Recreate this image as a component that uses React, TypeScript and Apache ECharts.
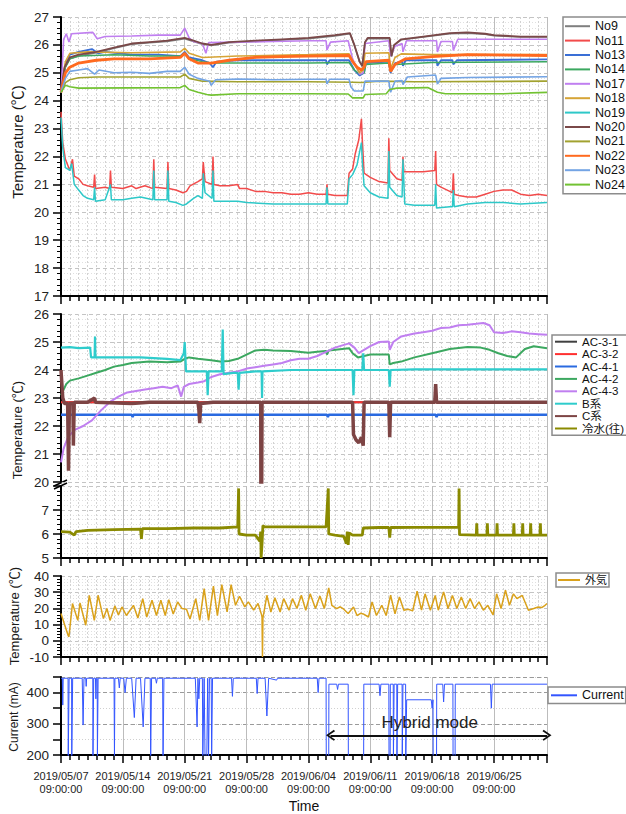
import React, { useEffect, useRef } from 'react';
import * as echarts from 'echarts';

// x values are days since 2019/05/07 09:00:00
const DAY0 = Date.UTC(2019, 4, 7, 9, 0, 0);
const X_MIN = 0;
const X_MAX = 55;
const WEEK = 7;

// ---------- Panel 1 : room temperatures ----------
const no9: [number, number][] = [[0,24.3],[0.4,25.15],[1,25.5],[2,25.6],[4,25.72],[6,25.88],[8,26.02],[10,26.08],[12,26.12],[14,26.22],[15,26.12],[16,26.02],[17,25.98],[19,26.08],[22,26.12],[25,26.18],[28,26.22],[31,26.32],[32.7,26.4],[33.2,25.98],[33.8,25.38],[34.1,25.22],[34.4,26.08],[34.7,26.22],[37.2,26.22],[37.4,25.58],[37.7,25.98],[38.5,26.18],[41,26.28],[44,26.4],[46,26.42],[48,26.38],[49,26.33],[52,26.28],[55,26.28]];
const no11: [number, number][] = [[0,23.6],[0.2,22.5],[0.5,21.9],[1,21.5],[1.3,21.9],[1.5,21.3],[2,21.2],[2.5,21.0],[3,20.95],[3.7,20.9],[3.8,21.35],[3.9,20.85],[5,20.9],[5.5,20.85],[5.6,21.5],[5.7,20.9],[7,20.85],[8,20.95],[8.5,20.85],[9.5,20.95],[10.4,20.85],[10.5,21.9],[10.6,20.9],[12,20.85],[12.1,21.8],[12.2,20.85],[13,20.8],[13.8,20.7],[14.2,20.75],[14.6,20.95],[15.5,21.1],[16,21.2],[16.1,21.8],[16.3,21.1],[17.1,21.0],[17.2,22.0],[17.3,21.0],[18,20.95],[19,20.95],[20,21.0],[20.2,20.85],[21,20.85],[22,20.75],[23,20.75],[24,20.7],[25,20.7],[26,20.65],[27,20.65],[28,20.7],[29,20.65],[30,20.65],[30.1,21.0],[30.2,20.65],[31,20.6],[32.4,20.6],[32.6,21.4],[33,21.55],[33.3,22.1],[33.7,22.6],[34,23.35],[34.1,22.6],[34.3,21.4],[35,21.25],[36,21.1],[37,21.05],[37.1,22.65],[37.2,21.5],[38,21.2],[38.6,21.15],[38.7,22.0],[38.8,21.45],[40,21.45],[41,21.45],[42.3,21.5],[42.4,22.2],[42.5,21.0],[43,20.9],[44,20.75],[44.3,20.7],[44.4,21.4],[44.5,20.65],[45,20.6],[46,20.55],[47,20.55],[48,20.65],[49,20.75],[50,20.8],[51,20.8],[52,20.65],[53,20.6],[54,20.65],[55,20.6]];
const no13: [number, number][] = [[0,24.3],[0.5,25.3],[1,25.65],[2,25.75],[3.5,25.85],[4.2,25.7],[5,25.75],[8,25.65],[11,25.65],[13.5,25.6],[14,25.75],[14.5,25.55],[16,25.45],[16.8,25.35],[17.2,25.2],[17.6,25.4],[20,25.45],[24,25.45],[28,25.45],[30,25.45],[30.1,25.3],[30.4,25.45],[32.6,25.45],[33.2,25.1],[33.8,24.9],[34.3,25.0],[34.5,25.35],[37.1,25.4],[37.3,25.0],[37.8,25.35],[38.6,25.4],[38.7,25.25],[39,25.45],[42.5,25.45],[42.6,25.25],[43,25.45],[44.3,25.45],[44.4,25.3],[44.8,25.45],[55,25.48]];
const no14: [number, number][] = [[0,24.3],[0.5,25.2],[1,25.5],[2,25.6],[6,25.65],[10,25.6],[13.5,25.6],[14,25.7],[14.5,25.5],[16,25.4],[17,25.35],[20,25.35],[28,25.35],[32.6,25.37],[33.2,25.1],[33.8,24.95],[34.3,25.0],[34.5,25.3],[37.1,25.35],[37.3,25.05],[37.8,25.3],[42,25.37],[55,25.4]];
const no17: [number, number][] = [[0,24.3],[0.3,26.2],[0.6,26.4],[0.9,26.1],[1.2,26.4],[3.6,26.45],[4.1,26.22],[5,26.3],[8,26.32],[11,26.35],[13.5,26.35],[14,26.6],[14.5,26.25],[15,26.12],[16,26.05],[16.4,25.7],[16.7,26.08],[20,26.1],[24,26.12],[28,26.15],[30,26.15],[30.1,25.82],[30.5,26.1],[32.5,26.15],[33,25.5],[33.8,24.95],[34.2,25.0],[34.4,26.05],[37.1,26.15],[37.3,25.6],[37.8,25.95],[38.6,26.05],[38.7,25.75],[39.1,26.15],[42.5,26.15],[42.6,25.75],[43,26.12],[44.3,26.12],[44.4,25.8],[44.9,26.2],[55,26.2]];
const no18: [number, number][] = [[0,24.3],[0.5,25.4],[1,25.7],[3,25.75],[8,25.72],[13.5,25.75],[14,25.88],[14.5,25.7],[16,25.55],[20,25.6],[28,25.65],[32.6,25.68],[33.2,25.3],[33.8,25.0],[34.2,25.1],[34.4,25.7],[37.1,25.72],[37.3,25.15],[37.8,25.55],[38.5,25.68],[42,25.65],[55,25.65]];
const no19: [number, number][] = [[0,23.4],[0.2,22.3],[0.5,21.6],[1,21.5],[1.2,21.75],[1.5,21.0],[2,20.8],[2.5,20.6],[3,20.5],[3.7,20.45],[3.8,20.9],[3.9,20.4],[5,20.45],[5.6,21.0],[5.7,20.45],[7,20.45],[8,20.5],[9,20.55],[10.4,20.45],[10.5,21.5],[10.6,20.45],[12,20.45],[12.1,21.5],[12.2,20.4],[13,20.35],[13.8,20.25],[14.2,20.3],[15,20.5],[15.5,20.6],[16,20.5],[16.1,21.4],[16.3,20.7],[17.1,20.5],[17.2,21.5],[17.3,20.4],[18,20.4],[20,20.4],[21,20.35],[24,20.3],[27,20.3],[30,20.3],[30.1,20.9],[30.2,20.3],[32.4,20.3],[32.6,21.2],[33,21.35],[33.5,21.7],[34,22.5],[34.1,21.8],[34.3,20.95],[35,20.7],[36,20.55],[37,20.5],[37.1,22.2],[37.2,20.9],[38,20.6],[38.6,20.55],[38.7,21.9],[38.9,20.3],[40,20.25],[42.3,20.25],[42.4,21.0],[42.5,20.15],[44,20.2],[44.3,20.2],[44.4,20.8],[44.5,20.2],[46,20.3],[48,20.35],[50,20.35],[52,20.3],[55,20.35]];
const no20: [number, number][] = [[0,24.3],[0.4,25.2],[1,25.55],[2,25.65],[4,25.75],[6,25.9],[8,26.05],[10,26.1],[12,26.15],[14,26.25],[15,26.15],[16,26.05],[17,26.0],[19,26.1],[22,26.15],[25,26.2],[28,26.25],[31,26.35],[32.7,26.42],[33.2,26.0],[33.8,25.4],[34.1,25.25],[34.4,26.1],[34.7,26.25],[37.2,26.25],[37.4,25.6],[37.7,26.0],[38.5,26.2],[41,26.3],[44,26.42],[46,26.45],[48,26.4],[49,26.35],[52,26.3],[55,26.3]];
const no21: [number, number][] = [[0,24.3],[0.5,24.65],[1,24.75],[2,24.82],[4,24.85],[13.5,24.85],[14,24.95],[14.5,24.8],[16,24.7],[20,24.68],[28,24.68],[33,24.66],[34,24.65],[36,24.7],[40,24.68],[55,24.7]];
const no22: [number, number][] = [[0,24.3],[0.5,25.0],[1,25.2],[2,25.35],[4,25.45],[6,25.5],[10,25.5],[13.5,25.55],[14,25.7],[14.5,25.5],[15.5,25.35],[17,25.35],[19,25.45],[22,25.55],[25,25.58],[28,25.6],[32.6,25.62],[33,25.4],[33.5,25.2],[34,25.1],[34.3,25.2],[34.5,25.4],[37.1,25.45],[37.3,25.05],[37.8,25.3],[39,25.5],[42,25.58],[46,25.65],[55,25.62]];
const no23: [number, number][] = [[0,24.3],[0.5,24.8],[1,25.05],[2,25.1],[3,25.15],[3.8,24.95],[4.3,25.1],[6,25.0],[8,25.02],[10,24.98],[12,25.05],[13.5,25.05],[14,25.2],[14.5,24.95],[15.5,24.8],[16.8,24.7],[17,24.55],[17.5,24.75],[20,24.78],[24,24.75],[28,24.77],[30,24.77],[30.1,24.6],[30.4,24.77],[32.6,24.77],[32.8,24.5],[33.2,24.35],[34.2,24.35],[34.4,24.7],[37.1,24.7],[37.3,24.3],[37.8,24.7],[38.6,24.72],[38.7,24.58],[39.2,24.85],[42.4,24.92],[42.6,24.6],[43,24.8],[46,24.83],[55,24.86]];
const no24: [number, number][] = [[0,24.3],[0.5,24.55],[1,24.5],[2,24.45],[13.5,24.47],[14,24.55],[14.5,24.4],[15.5,24.3],[16.5,24.22],[17,24.2],[20,24.25],[28,24.25],[32.5,24.24],[33,24.1],[34.2,24.1],[34.4,24.22],[36.8,24.25],[37.2,24.4],[38,24.45],[41.5,24.47],[42.6,24.3],[43.5,24.25],[50,24.25],[55,24.3]];

// ---------- Panel 2 : supply temperatures ----------
const ac31: [number, number][] = [[0,22.85],[55,22.85]];
const ac32: [number, number][] = [[0,22.85],[55,22.85]];
const ac41: [number, number][] = [[0,22.4],[8,22.4],[8.1,22.32],[8.2,22.4],[15.6,22.4],[15.7,22.3],[15.8,22.4],[30.1,22.4],[30.2,22.32],[30.3,22.4],[42.4,22.4],[42.5,22.32],[42.6,22.4],[55,22.4]];
const ac42: [number, number][] = [[0,23.1],[0.3,23.3],[0.6,23.5],[1,23.62],[2,23.7],[3,23.8],[4,23.9],[5,24.0],[6,24.12],[7,24.18],[8,24.25],[9,24.28],[10,24.3],[12,24.28],[13.5,24.3],[14,24.4],[14.5,24.45],[15.5,24.4],[17,24.35],[18,24.3],[19,24.32],[20,24.4],[21,24.55],[22,24.7],[23,24.72],[24,24.7],[26,24.68],[28,24.62],[29,24.65],[30,24.68],[30.1,24.55],[30.3,24.7],[32.6,24.78],[33,24.6],[33.6,24.45],[34.3,24.5],[35,24.55],[37.1,24.55],[37.2,24.2],[37.6,24.25],[38.5,24.3],[40,24.45],[42,24.6],[44,24.75],[46,24.82],[47.5,24.8],[48.5,24.72],[49.5,24.6],[50.5,24.5],[51.5,24.45],[52.5,24.75],[53.5,24.85],[55,24.78]];
const ac43: [number, number][] = [[0,20.7],[0.3,21.2],[0.8,21.6],[1.5,21.85],[2.5,22.0],[3.5,22.2],[4.5,22.55],[5.5,22.85],[6.5,23.05],[7.5,23.2],[8.5,23.25],[9.5,23.3],[10.5,23.35],[11.5,23.4],[12.5,23.35],[13.2,23.45],[13.6,23.05],[13.9,23.4],[14.5,23.5],[15.5,23.55],[16.2,23.6],[17,23.75],[18,23.85],[19,23.9],[20,23.95],[21,24.05],[22,24.1],[23,24.15],[24,24.2],[25,24.25],[26,24.35],[27,24.4],[28,24.4],[29,24.5],[30,24.65],[31,24.8],[32.6,24.95],[33.2,24.8],[33.7,24.6],[34.2,24.7],[35,24.85],[36,25.0],[37.1,25.02],[37.2,24.72],[37.6,25.0],[38.5,25.2],[40,25.3],[41,25.35],[42,25.4],[43,25.5],[44,25.52],[45,25.6],[46,25.62],[47,25.65],[47.8,25.68],[48.5,25.6],[49,25.35],[50,25.32],[51,25.38],[52,25.35],[53,25.3],[54,25.28],[55,25.26]];
const sysB: [number, number][] = [[0,24.8],[1,24.82],[2,24.78],[3.3,24.8],[3.4,24.45],[3.8,24.45],[3.85,25.2],[3.9,24.45],[6,24.45],[9,24.45],[12,24.4],[13.5,24.35],[13.9,24.6],[14.0,25.0],[14.1,24.3],[14.15,23.95],[16,23.95],[16.5,23.95],[16.6,23.1],[16.7,23.95],[18.2,23.95],[18.3,25.45],[18.4,23.85],[19.5,23.9],[20,23.9],[20.1,23.3],[20.2,23.9],[22,23.95],[22.7,23.95],[22.75,23.0],[22.8,23.95],[26,24.0],[30,24.0],[33,24.0],[33.1,23.1],[33.2,24.0],[34.1,24.0],[34.2,24.6],[34.3,24.0],[37.1,24.0],[37.2,23.4],[37.3,24.0],[40,24.02],[45,24.02],[50,24.02],[55,24.02]];
const sysC: [number, number][] = [[0,24.0],[0.2,23.0],[0.4,22.8],[0.75,22.8],[0.85,20.4],[0.95,22.8],[1.35,22.8],[1.4,21.3],[1.5,22.85],[3,22.85],[3.8,23.0],[3.9,22.85],[8,22.8],[10,22.85],[13,22.85],[15.5,22.85],[15.6,22.6],[15.7,22.1],[15.8,22.8],[17.2,22.85],[22.6,22.85],[22.65,15.0],[22.75,22.85],[28,22.85],[33,22.85],[33.1,21.7],[33.4,21.5],[33.7,21.4],[34.0,21.6],[34.2,21.3],[34.3,22.85],[37.1,22.85],[37.2,21.6],[37.3,22.85],[42.3,22.85],[42.4,23.5],[42.5,22.85],[48,22.85],[55,22.85]];
const coldWater: [number, number][] = [[0,6.1],[1,6.08],[1.5,5.95],[1.7,6.1],[3,6.15],[6,6.18],[9,6.2],[9.1,5.8],[9.2,6.22],[12,6.22],[15,6.25],[18,6.25],[20,6.3],[20.1,7.9],[20.15,6.0],[21,5.95],[22,5.95],[22.5,5.7],[22.6,6.1],[22.65,5.0],[22.75,5.6],[22.85,6.35],[23,6.3],[26,6.3],[30,6.3],[30.25,7.9],[30.3,6.0],[31,5.95],[32,5.9],[32.3,5.6],[32.4,6.1],[32.5,5.55],[32.6,6.05],[33,5.95],[34.1,5.95],[34.2,6.25],[36,6.27],[37.1,6.27],[37.2,5.85],[37.3,6.27],[40,6.28],[45,6.28],[45.05,7.9],[45.1,5.97],[47,5.95],[47.05,6.45],[47.1,5.95],[48.2,5.95],[48.25,6.45],[48.3,5.95],[49.3,5.95],[49.35,6.45],[49.4,5.95],[51.2,5.95],[51.25,6.45],[51.3,5.95],[52.2,5.95],[52.25,6.45],[52.3,5.95],[53.1,5.95],[53.15,6.45],[53.2,5.95],[54.2,5.95],[54.25,6.45],[54.3,5.95],[55,5.95]];

// ---------- Panel 3 : outdoor air ----------
const outdoor: [number, number][] = [[0,16.8],[0.4,10],[0.8,3.4],[0.9,2.5],[1.3,23],[1.9,12.6],[2.15,23.3],[2.8,9.6],[3.2,28.1],[3.77,12.6],[4.2,28.1],[4.8,13.7],[5.2,19.9],[5.55,12.6],[6.1,21.5],[6.5,16],[6.9,20.9],[7.4,15.6],[8.2,21.9],[8.7,14.1],[9.25,26],[9.7,14.7],[10.3,25],[10.8,15.6],[11.3,25],[11.8,15.6],[12.2,25.4],[12.7,16.6],[13.2,24],[13.7,19.9],[14.2,19.5],[14.6,13.5],[15.25,26],[15.7,12.6],[16.2,32.2],[16.7,12.6],[17.25,33.8],[17.7,15.6],[18.2,34.7],[18.8,17.8],[19.25,34.7],[19.75,21.9],[20.2,27.5],[20.8,20.9],[21.2,24],[21.8,18.9],[22.3,23],[22.7,16],[22.75,14.7],[22.8,-10],[22.85,14],[23.3,28.1],[23.75,17.8],[24.2,26.6],[24.8,17.8],[25.2,26],[25.8,18.9],[26.2,26],[26.7,19.9],[27.2,28.1],[27.7,18.9],[28.2,29],[28.8,19.9],[29.3,27.6],[29.8,19.9],[30.3,32.6],[30.65,21.9],[31.2,19.9],[31.6,21],[32,19.5],[32.5,16.8],[33.1,20.9],[33.5,15.6],[33.9,17],[34.2,16.6],[34.8,14.7],[35.2,24],[35.7,15.6],[36.3,21.9],[36.8,15.6],[37.3,28.1],[37.8,16.6],[38.3,27.1],[38.8,18.9],[39.3,19.5],[39.8,18.5],[40.3,30.6],[40.8,18.9],[41.2,29],[41.8,18.9],[42.35,28],[42.7,18.9],[43.3,30.2],[43.8,19.9],[44.3,28],[44.8,19.9],[45.3,27],[45.8,19.9],[46.3,26],[46.8,19.9],[47.3,24],[47.8,18.9],[48.3,21.9],[48.9,16],[49.3,29],[49.8,19.9],[50.3,31.2],[50.75,21.9],[51.2,29],[51.6,26],[52.2,28],[52.9,18.9],[53.5,19.9],[54.0,20.9],[54.4,20.5],[54.7,21.5],[55,23]];

// ---------- Panel 4 : current ----------
const current: [number, number][] = [[0,446],[0.15,446],[0.2,360],[0.25,446],[0.8,446],[0.82,190],[0.9,190],[0.92,446],[1.2,446],[1.22,190],[1.3,190],[1.32,446],[2.4,446],[2.5,296],[2.6,446],[2.8,446],[2.85,420],[2.9,446],[3.6,446],[3.62,190],[3.7,446],[3.9,446],[3.95,380],[4.0,446],[4.1,446],[4.12,190],[4.2,446],[6.0,446],[6.05,190],[6.1,446],[6.5,446],[6.6,415],[6.7,446],[7.1,446],[7.25,400],[7.4,446],[8.0,446],[8.3,320],[8.5,446],[9.0,446],[9.3,290],[9.5,446],[10.1,446],[10.15,190],[10.25,446],[10.7,446],[10.8,430],[10.9,446],[11.5,446],[11.55,190],[11.65,446],[15.2,446],[15.4,290],[15.5,446],[15.6,380],[15.7,446],[16.0,446],[16.05,190],[16.2,446],[16.3,190],[16.5,190],[16.6,446],[16.7,190],[16.8,446],[17.0,446],[17.05,190],[17.15,446],[19.3,446],[19.4,388],[19.5,446],[22.1,446],[22.2,397],[22.3,446],[23.1,446],[23.3,325],[23.5,446],[24.4,440],[24.5,446],[29.0,446],[29.1,400],[29.2,446],[30.0,446],[30.02,190],[30.3,190],[30.32,427],[31.2,427],[31.3,410],[31.4,427],[32.5,427],[32.52,190],[34.25,190],[34.27,427],[36.0,427],[36.1,390],[36.2,427],[37.1,427],[37.12,190],[37.25,190],[37.27,427],[37.6,427],[37.62,190],[37.7,427],[38.0,427],[38.02,190],[38.1,427],[38.6,427],[38.62,190],[38.7,427],[39.0,427],[39.02,190],[39.1,190],[39.12,377],[41.9,377],[42.0,350],[42.1,377],[42.12,190],[42.5,190],[42.52,427],[43.2,427],[43.3,370],[43.4,427],[44.35,427],[44.37,190],[44.6,190],[44.62,427],[48.6,427],[48.7,350],[48.8,427],[55,427]];

// Hybrid-mode annotation (x in days, y in mA)
const hybridStart = 30.5;
const hybridEnd = 55;
const hybridLevel = 263;
const hybridText = 'Hybrid mode';

const panel1Names = ['No9','No11','No13','No14','No17','No18','No19','No20','No21','No22','No23','No24'];
const panel2Names = ['AC-3-1','AC-3-2','AC-4-1','AC-4-2','AC-4-3','B系','C系','冷水(往)'];
const panel3Names = ['外気'];
const panel4Names = ['Current'];

const FONT = '"Liberation Sans", Arial, "Noto Sans CJK JP", sans-serif';

function dayLabel(d: number): string {
  const t = new Date(DAY0 + d * 86400000);
  const p = (n: number) => String(n).padStart(2, '0');
  return `${t.getUTCFullYear()}/${p(t.getUTCMonth() + 1)}/${p(t.getUTCDate())}\n${p(t.getUTCHours())}:${p(t.getUTCMinutes())}:${p(t.getUTCSeconds())}`;
}

function xAxis(gridIndex: number, showAxis: boolean, showLabel: boolean, minorGrid: boolean): any {
  return {
    type: 'value', gridIndex, min: X_MIN, max: X_MAX, interval: WEEK,
    axisLine: { show: showAxis, onZero: false, lineStyle: { color: '#000', width: 2 } },
    axisTick: { show: showAxis, length: 8, lineStyle: { color: '#000', width: 1.5 } },
    minorTick: { show: showAxis, splitNumber: 7, length: 5, lineStyle: { color: '#000', width: 1.5 } },
    axisLabel: {
      show: showLabel, formatter: (v: number) => dayLabel(v), fontSize: 11, lineHeight: 12.7,
      color: '#222', fontFamily: FONT, margin: 15, showMaxLabel: false,
    },
    splitLine: { show: true, lineStyle: { color: '#bcbcbc', width: 1 } },
    minorSplitLine: { show: minorGrid, lineStyle: { color: '#d2d2d2', width: 1, type: [2, 2] } },
    name: showLabel ? 'Time' : '', nameLocation: 'middle', nameGap: 44,
    nameTextStyle: { fontSize: 14, color: '#111', fontFamily: FONT },
  };
}

function yAxis(gridIndex: number, min: number, max: number, interval: number, extra: any = {}): any {
  return {
    type: 'value', gridIndex, min, max, interval,
    axisLine: { show: true, onZero: false, lineStyle: { color: '#000', width: 2 } },
    axisTick: { show: true, length: 8, lineStyle: { color: '#000', width: 1.5 } },
    minorTick: { show: true, splitNumber: 5, length: 4, lineStyle: { color: '#000', width: 1 } },
    axisLabel: { fontSize: 13.5, color: '#222', margin: 12, fontFamily: FONT },
    splitLine: { show: true, lineStyle: { color: '#c4c4c4', type: [4, 3] } },
    minorSplitLine: { show: true, lineStyle: { color: '#e0e0e0', type: [1, 2] } },
    ...extra,
  };
}

function line(name: string, data: [number, number][], color: string, width: number, axis: number, yAxisIndex?: number): any {
  return {
    type: 'line', name, data, xAxisIndex: axis, yAxisIndex: yAxisIndex ?? axis,
    symbol: 'none', showSymbol: false, silent: true, animation: false,
    lineStyle: { color, width }, itemStyle: { color },
  };
}

function legend(names: string[], left: number, top: number, itemWidth: number, fontSize: number, lineHeight: number, padding: number[]): any {
  return {
    data: names, left, top, orient: 'vertical', itemWidth, itemHeight: 2, itemGap: 0,
    icon: 'rect',
    selectedMode: false, padding, backgroundColor: '#fff',
    borderColor: '#8c8c8c', borderWidth: 1.5, borderRadius: 0,
    textStyle: { fontSize, lineHeight, color: '#111', fontFamily: FONT },
  };
}

const chevron = 'path://M5,0L10,7L8.8,8L5,2.6L1.2,8L0,7Z';

function yName(text: string, x: number, y: number, size: number): any {
  return {
    type: 'text', x, y, rotation: Math.PI / 2, silent: true,
    style: { text, fontSize: size, fontFamily: FONT, fill: '#1a1a1a', align: 'center', verticalAlign: 'middle' },
  };
}

export default function App() {
  const ref = useRef<HTMLDivElement>(null);
  useEffect(() => {
    if (!ref.current) return;
    const chart = echarts.init(ref.current, null, { renderer: 'svg' });
    const option: any = {
      animation: false,
      backgroundColor: '#fff',
      grid: [
        { left: 61, top: 17, width: 486, height: 279 },
        { left: 61, top: 314, width: 486, height: 168 },
        { left: 61, top: 486, width: 486, height: 72 },
        { left: 61, top: 576, width: 486, height: 81 },
        { left: 61, top: 677, width: 486, height: 79 },
      ],
      xAxis: [
        xAxis(0, true, false, true),
        xAxis(1, false, false, true),
        xAxis(2, true, false, true),
        xAxis(3, true, false, true),
        xAxis(4, true, true, false),
      ],
      yAxis: [
        yAxis(0, 17, 27, 1),
        yAxis(1, 20, 26, 1),
        yAxis(2, 5, 8, 1, { axisLabel: { fontSize: 13.5, color: '#222', margin: 12, fontFamily: FONT, showMaxLabel: false } }),
        yAxis(3, -10, 40, 10),
        yAxis(4, 200, 450, 50, {
          minorTick: { show: false },
          axisLabel: { fontSize: 13.5, color: '#222', margin: 12, fontFamily: FONT, formatter: (v: number) => (v % 100 === 0 ? String(v) : '') },
          splitLine: { show: true, lineStyle: { color: '#d0d0d0', type: [1, 2] } },
          minorSplitLine: { show: false },
        }),
        {
          type: 'value', gridIndex: 4, min: 200, max: 450, interval: 100,
          axisLine: { show: false }, axisTick: { show: false }, axisLabel: { show: false },
          splitLine: { show: true, lineStyle: { color: '#9a9a9a', type: [4, 3] } },
        },
      ],
      legend: [
        legend(panel1Names, 563, 17, 25, 12.5, 14.4, [2, 3, 2, 2]),
        legend(panel2Names, 552, 335, 22, 11.5, 12.4, [0.5, 3, 0.5, 3]),
        legend(panel3Names, 556, 573, 22, 11, 14, [0, 2, 0, 2]),
        legend(panel4Names, 548, 687, 26, 12.5, 14.6, [1, 2, 1, 3]),
      ],
      graphic: [
        yName('Temperature (℃)', 17, 142, 15),
        yName('Temperature (℃)', 17, 430, 13),
        yName('Temperature (℃)', 14, 616, 13),
        yName('Current (mA)', 14, 717, 12),
        { type: 'rect', shape: { x: 55, y: 482, width: 12, height: 4 }, style: { fill: '#fff' }, silent: true },
        { type: 'line', shape: { x1: 54, y1: 486, x2: 67, y2: 480 }, style: { stroke: '#000', lineWidth: 1.5 }, silent: true },
        { type: 'line', shape: { x1: 54, y1: 489, x2: 67, y2: 483 }, style: { stroke: '#000', lineWidth: 1.5 }, silent: true },
      ],
      series: [
        line('No9', no9, '#7f7f7f', 1.5, 0),
        line('No11', no11, '#f24b4b', 1.5, 0),
        line('No13', no13, '#3a6fd6', 1.8, 0),
        line('No14', no14, '#3ca860', 1.5, 0),
        line('No17', no17, '#c07ff0', 1.6, 0),
        line('No18', no18, '#d6a436', 1.6, 0),
        line('No19', no19, '#2ec8c8', 1.5, 0),
        line('No20', no20, '#7a4848', 1.8, 0),
        line('No21', no21, '#a2a230', 1.6, 0),
        line('No22', no22, '#ff6a1f', 2.8, 0),
        line('No23', no23, '#74a4e4', 1.6, 0),
        line('No24', no24, '#72c232', 1.6, 0),

        line('AC-3-1', ac31, '#404040', 2, 1),
        line('AC-3-2', ac32, '#ff3030', 2, 1),
        line('AC-4-1', ac41, '#2a6ae0', 2.5, 1),
        line('AC-4-2', ac42, '#3ca860', 2, 1),
        line('AC-4-3', ac43, '#c07ff0', 2, 1),
        line('B系', sysB, '#2ecccc', 2.2, 1),
        line('C系', sysC, '#7d4444', 3.5, 1),
        line('冷水(往)', coldWater, '#8a8a00', 2.8, 2),

        line('外気', outdoor, '#d9a11b', 1.5, 3),
        {
          ...line('Current', current, '#3355ff', 1, 4),
          markLine: {
            silent: true, animation: false,
            symbol: [chevron, chevron], symbolSize: [11, 9],
            lineStyle: { color: '#111', width: 2, type: 'solid' },
            label: { show: true, position: 'middle', formatter: hybridText, fontSize: 17, color: '#222', fontFamily: FONT, distance: 4, padding: [0, 18, 0, 0] },
            data: [[{ coord: [hybridStart, hybridLevel] }, { coord: [hybridEnd, hybridLevel] }]],
          },
        },
      ],
    };
    chart.setOption(option);
    return () => chart.dispose();
  }, []);
  return <div ref={ref} style={{ position: 'absolute', left: 0, top: 0, width: 626, height: 814 }} />;
}
